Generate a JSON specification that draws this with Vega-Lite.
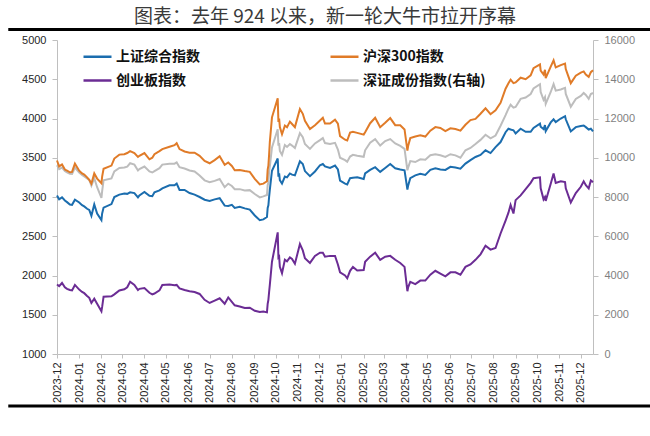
{
  "$schema": "https://vega.github.io/schema/vega-lite/v6.json",
  "width": 536,
  "height": 314,
  "autosize": {"type": "none"},
  "padding": {"left": 57, "top": 40, "right": 57, "bottom": 82},
  "background": "white",
  "title": {
    "text": "图表：去年 924 以来，新一轮大牛市拉开序幕",
    "font": "Noto Sans CJK SC",
    "fontSize": 19,
    "fontWeight": "normal",
    "color": "#3a3a3a",
    "anchor": "middle",
    "frame": "group",
    "offset": 1
  },
  "config": {
    "view": {"stroke": null},
    "axis": {
      "labelFont": "Liberation Sans",
      "labelFontSize": 11,
      "labelColor": "#262626",
      "domainColor": "#bfbfbf",
      "tickColor": "#bfbfbf",
      "grid": false
    }
  },
  "datasets": {
    "idx": [
      {"d": "2023-12-01", "sh": 3020, "hs": 3465, "cyb": 1885, "sz": 9620},
      {"d": "2023-12-04", "sh": 2970, "hs": 3390, "cyb": 1865, "sz": 9420},
      {"d": "2023-12-08", "sh": 2995, "hs": 3415, "cyb": 1905, "sz": 9500},
      {"d": "2023-12-12", "sh": 2955, "hs": 3350, "cyb": 1850, "sz": 9330},
      {"d": "2023-12-15", "sh": 2935, "hs": 3335, "cyb": 1830, "sz": 9250},
      {"d": "2023-12-19", "sh": 2905, "hs": 3315, "cyb": 1815, "sz": 9180},
      {"d": "2023-12-22", "sh": 2900, "hs": 3320, "cyb": 1810, "sz": 9170},
      {"d": "2023-12-26", "sh": 2965, "hs": 3425, "cyb": 1880, "sz": 9500},
      {"d": "2024-01-01", "sh": 2930, "hs": 3335, "cyb": 1820, "sz": 9250},
      {"d": "2024-01-05", "sh": 2895, "hs": 3300, "cyb": 1790, "sz": 9120},
      {"d": "2024-01-08", "sh": 2880, "hs": 3285, "cyb": 1775, "sz": 9050},
      {"d": "2024-01-12", "sh": 2850, "hs": 3250, "cyb": 1740, "sz": 8950},
      {"d": "2024-01-15", "sh": 2835, "hs": 3220, "cyb": 1715, "sz": 8870},
      {"d": "2024-01-18", "sh": 2760, "hs": 3170, "cyb": 1650, "sz": 8580},
      {"d": "2024-01-22", "sh": 2905, "hs": 3300, "cyb": 1705, "sz": 8960},
      {"d": "2024-01-26", "sh": 2790, "hs": 3235, "cyb": 1640, "sz": 8500},
      {"d": "2024-02-01", "sh": 2705, "hs": 3175, "cyb": 1545, "sz": 7950},
      {"d": "2024-02-02", "sh": 2790, "hs": 3260, "cyb": 1600, "sz": 8300},
      {"d": "2024-02-04", "sh": 2865, "hs": 3360, "cyb": 1730, "sz": 8850},
      {"d": "2024-02-15", "sh": 2910, "hs": 3400, "cyb": 1735, "sz": 8950},
      {"d": "2024-02-19", "sh": 3000, "hs": 3490, "cyb": 1760, "sz": 9300},
      {"d": "2024-02-26", "sh": 3030, "hs": 3540, "cyb": 1810, "sz": 9480},
      {"d": "2024-03-04", "sh": 3045, "hs": 3545, "cyb": 1825, "sz": 9500},
      {"d": "2024-03-08", "sh": 3040, "hs": 3560, "cyb": 1850, "sz": 9550},
      {"d": "2024-03-12", "sh": 3060, "hs": 3585, "cyb": 1920, "sz": 9720},
      {"d": "2024-03-18", "sh": 3050, "hs": 3560, "cyb": 1880, "sz": 9650},
      {"d": "2024-03-23", "sh": 2995, "hs": 3510, "cyb": 1815, "sz": 9350},
      {"d": "2024-03-25", "sh": 3020, "hs": 3525, "cyb": 1830, "sz": 9420},
      {"d": "2024-04-01", "sh": 3065, "hs": 3560, "cyb": 1840, "sz": 9550},
      {"d": "2024-04-08", "sh": 3015, "hs": 3480, "cyb": 1780, "sz": 9300},
      {"d": "2024-04-12", "sh": 3010, "hs": 3500, "cyb": 1760, "sz": 9250},
      {"d": "2024-04-15", "sh": 3060, "hs": 3545, "cyb": 1770, "sz": 9320},
      {"d": "2024-04-22", "sh": 3085, "hs": 3585, "cyb": 1810, "sz": 9470},
      {"d": "2024-04-26", "sh": 3110, "hs": 3610, "cyb": 1880, "sz": 9650},
      {"d": "2024-05-06", "sh": 3150, "hs": 3640, "cyb": 1885, "sz": 9700},
      {"d": "2024-05-13", "sh": 3150, "hs": 3660, "cyb": 1875, "sz": 9700},
      {"d": "2024-05-16", "sh": 3170, "hs": 3685, "cyb": 1880, "sz": 9760},
      {"d": "2024-05-20", "sh": 3090, "hs": 3610, "cyb": 1835, "sz": 9520},
      {"d": "2024-05-27", "sh": 3090, "hs": 3580, "cyb": 1815, "sz": 9450},
      {"d": "2024-06-03", "sh": 3050, "hs": 3565, "cyb": 1800, "sz": 9350},
      {"d": "2024-06-10", "sh": 3030, "hs": 3565, "cyb": 1790, "sz": 9300},
      {"d": "2024-06-17", "sh": 3000, "hs": 3525, "cyb": 1765, "sz": 9100},
      {"d": "2024-06-24", "sh": 2965, "hs": 3460, "cyb": 1690, "sz": 8850},
      {"d": "2024-07-01", "sh": 2950, "hs": 3430, "cyb": 1650, "sz": 8750},
      {"d": "2024-07-08", "sh": 2970, "hs": 3470, "cyb": 1680, "sz": 8820},
      {"d": "2024-07-15", "sh": 2985, "hs": 3520, "cyb": 1710, "sz": 8920},
      {"d": "2024-07-22", "sh": 2890, "hs": 3410, "cyb": 1640, "sz": 8500},
      {"d": "2024-07-27", "sh": 2885, "hs": 3440, "cyb": 1720, "sz": 8680},
      {"d": "2024-08-01", "sh": 2900, "hs": 3395, "cyb": 1665, "sz": 8560},
      {"d": "2024-08-05", "sh": 2860, "hs": 3340, "cyb": 1620, "sz": 8400},
      {"d": "2024-08-12", "sh": 2875, "hs": 3345, "cyb": 1605, "sz": 8400},
      {"d": "2024-08-19", "sh": 2855, "hs": 3330, "cyb": 1585, "sz": 8330},
      {"d": "2024-08-26", "sh": 2840, "hs": 3320, "cyb": 1590, "sz": 8350},
      {"d": "2024-09-02", "sh": 2765, "hs": 3230, "cyb": 1550, "sz": 8150},
      {"d": "2024-09-09", "sh": 2705, "hs": 3160, "cyb": 1535, "sz": 7980},
      {"d": "2024-09-14", "sh": 2715, "hs": 3170, "cyb": 1540, "sz": 8030},
      {"d": "2024-09-19", "sh": 2745, "hs": 3200, "cyb": 1530, "sz": 8100},
      {"d": "2024-09-20", "sh": 2860, "hs": 3350, "cyb": 1640, "sz": 8600},
      {"d": "2024-09-21", "sh": 2895, "hs": 3400, "cyb": 1690, "sz": 8750},
      {"d": "2024-09-22", "sh": 3000, "hs": 3540, "cyb": 1790, "sz": 9300},
      {"d": "2024-09-23", "sh": 3090, "hs": 3700, "cyb": 1880, "sz": 9550},
      {"d": "2024-09-26", "sh": 3335, "hs": 4015, "cyb": 2175, "sz": 10530},
      {"d": "2024-10-04", "sh": 3490, "hs": 4256, "cyb": 2550, "sz": 11450},
      {"d": "2024-10-05", "sh": 3260, "hs": 3955, "cyb": 2230, "sz": 10620},
      {"d": "2024-10-06", "sh": 3300, "hs": 4000, "cyb": 2240, "sz": 10750},
      {"d": "2024-10-07", "sh": 3215, "hs": 3890, "cyb": 2110, "sz": 10350},
      {"d": "2024-10-10", "sh": 3170, "hs": 3800, "cyb": 2030, "sz": 10150},
      {"d": "2024-10-14", "sh": 3260, "hs": 3910, "cyb": 2200, "sz": 10650},
      {"d": "2024-10-17", "sh": 3250, "hs": 3890, "cyb": 2180, "sz": 10550},
      {"d": "2024-10-21", "sh": 3300, "hs": 3960, "cyb": 2230, "sz": 10700},
      {"d": "2024-10-24", "sh": 3285, "hs": 3930, "cyb": 2210, "sz": 10620},
      {"d": "2024-10-28", "sh": 3275, "hs": 3890, "cyb": 2150, "sz": 10500},
      {"d": "2024-11-04", "sh": 3455, "hs": 4120, "cyb": 2400, "sz": 11250},
      {"d": "2024-11-08", "sh": 3420, "hs": 4060, "cyb": 2320, "sz": 11050},
      {"d": "2024-11-11", "sh": 3330, "hs": 3970, "cyb": 2220, "sz": 10700},
      {"d": "2024-11-18", "sh": 3265, "hs": 3865, "cyb": 2160, "sz": 10450},
      {"d": "2024-11-25", "sh": 3325, "hs": 3915, "cyb": 2250, "sz": 10730},
      {"d": "2024-12-02", "sh": 3405, "hs": 3975, "cyb": 2290, "sz": 10900},
      {"d": "2024-12-06", "sh": 3420, "hs": 4010, "cyb": 2290, "sz": 11000},
      {"d": "2024-12-09", "sh": 3390, "hs": 3935, "cyb": 2240, "sz": 10750},
      {"d": "2024-12-16", "sh": 3370, "hs": 3935, "cyb": 2250, "sz": 10700},
      {"d": "2024-12-23", "sh": 3400, "hs": 3985, "cyb": 2250, "sz": 10760},
      {"d": "2024-12-27", "sh": 3350, "hs": 3935, "cyb": 2140, "sz": 10420},
      {"d": "2024-12-30", "sh": 3210, "hs": 3775, "cyb": 2040, "sz": 10000},
      {"d": "2025-01-06", "sh": 3170, "hs": 3730, "cyb": 2000, "sz": 9880},
      {"d": "2025-01-09", "sh": 3160, "hs": 3720, "cyb": 1965, "sz": 9800},
      {"d": "2025-01-13", "sh": 3240, "hs": 3820, "cyb": 2060, "sz": 10060},
      {"d": "2025-01-17", "sh": 3245, "hs": 3830, "cyb": 2110, "sz": 10150},
      {"d": "2025-01-23", "sh": 3250, "hs": 3817, "cyb": 2065, "sz": 10100},
      {"d": "2025-02-01", "sh": 3230, "hs": 3795, "cyb": 2070, "sz": 10050},
      {"d": "2025-02-03", "sh": 3300, "hs": 3825, "cyb": 2175, "sz": 10380},
      {"d": "2025-02-10", "sh": 3345, "hs": 3940, "cyb": 2240, "sz": 10770},
      {"d": "2025-02-17", "sh": 3380, "hs": 4010, "cyb": 2290, "sz": 10950},
      {"d": "2025-02-24", "sh": 3320, "hs": 3890, "cyb": 2200, "sz": 10620},
      {"d": "2025-03-03", "sh": 3370, "hs": 3945, "cyb": 2240, "sz": 10850},
      {"d": "2025-03-10", "sh": 3420, "hs": 4005, "cyb": 2250, "sz": 10950},
      {"d": "2025-03-17", "sh": 3365, "hs": 3915, "cyb": 2200, "sz": 10730},
      {"d": "2025-03-24", "sh": 3350, "hs": 3915, "cyb": 2160, "sz": 10600},
      {"d": "2025-03-30", "sh": 3340, "hs": 3860, "cyb": 2110, "sz": 10450},
      {"d": "2025-04-03", "sh": 3095, "hs": 3590, "cyb": 1800, "sz": 9360},
      {"d": "2025-04-04", "sh": 3145, "hs": 3650, "cyb": 1850, "sz": 9500},
      {"d": "2025-04-07", "sh": 3240, "hs": 3750, "cyb": 1920, "sz": 9830},
      {"d": "2025-04-14", "sh": 3275, "hs": 3770, "cyb": 1890, "sz": 9780},
      {"d": "2025-04-21", "sh": 3295, "hs": 3785, "cyb": 1935, "sz": 9920},
      {"d": "2025-04-28", "sh": 3280, "hs": 3770, "cyb": 1935, "sz": 9900},
      {"d": "2025-05-05", "sh": 3345, "hs": 3845, "cyb": 2010, "sz": 10130},
      {"d": "2025-05-12", "sh": 3365, "hs": 3890, "cyb": 2060, "sz": 10180},
      {"d": "2025-05-19", "sh": 3350, "hs": 3880, "cyb": 2025, "sz": 10130},
      {"d": "2025-05-26", "sh": 3345, "hs": 3840, "cyb": 1990, "sz": 10040},
      {"d": "2025-06-02", "sh": 3385, "hs": 3875, "cyb": 2040, "sz": 10180},
      {"d": "2025-06-09", "sh": 3375, "hs": 3865, "cyb": 2040, "sz": 10120},
      {"d": "2025-06-16", "sh": 3360, "hs": 3845, "cyb": 2010, "sz": 10000},
      {"d": "2025-06-23", "sh": 3425, "hs": 3920, "cyb": 2110, "sz": 10380},
      {"d": "2025-06-30", "sh": 3470, "hs": 3980, "cyb": 2140, "sz": 10500},
      {"d": "2025-07-07", "sh": 3510, "hs": 3995, "cyb": 2200, "sz": 10700},
      {"d": "2025-07-14", "sh": 3535, "hs": 4060, "cyb": 2270, "sz": 10910},
      {"d": "2025-07-21", "sh": 3595, "hs": 4130, "cyb": 2380, "sz": 11170},
      {"d": "2025-07-28", "sh": 3560, "hs": 4055, "cyb": 2330, "sz": 10990},
      {"d": "2025-08-04", "sh": 3635, "hs": 4105, "cyb": 2350, "sz": 11130},
      {"d": "2025-08-11", "sh": 3700, "hs": 4200, "cyb": 2535, "sz": 11630},
      {"d": "2025-08-18", "sh": 3825, "hs": 4380, "cyb": 2700, "sz": 12170},
      {"d": "2025-08-22", "sh": 3870, "hs": 4450, "cyb": 2800, "sz": 12500},
      {"d": "2025-08-25", "sh": 3860, "hs": 4495, "cyb": 2900, "sz": 12700},
      {"d": "2025-08-29", "sh": 3850, "hs": 4450, "cyb": 2790, "sz": 12550},
      {"d": "2025-09-01", "sh": 3810, "hs": 4460, "cyb": 2960, "sz": 12590},
      {"d": "2025-09-08", "sh": 3870, "hs": 4520, "cyb": 3020, "sz": 13000},
      {"d": "2025-09-15", "sh": 3830, "hs": 4500, "cyb": 3100, "sz": 13070},
      {"d": "2025-09-22", "sh": 3830, "hs": 4550, "cyb": 3180, "sz": 13250},
      {"d": "2025-09-26", "sh": 3880, "hs": 4640, "cyb": 3240, "sz": 13530},
      {"d": "2025-10-05", "sh": 3935, "hs": 4690, "cyb": 3250, "sz": 13750},
      {"d": "2025-10-06", "sh": 3895, "hs": 4610, "cyb": 3110, "sz": 13350},
      {"d": "2025-10-10", "sh": 3865, "hs": 4560, "cyb": 2970, "sz": 12950},
      {"d": "2025-10-12", "sh": 3915, "hs": 4620, "cyb": 3000, "sz": 13090},
      {"d": "2025-10-13", "sh": 3840, "hs": 4515, "cyb": 2950, "sz": 12750},
      {"d": "2025-10-20", "sh": 3950, "hs": 4660, "cyb": 3170, "sz": 13350},
      {"d": "2025-10-24", "sh": 3990, "hs": 4740, "cyb": 3300, "sz": 13750},
      {"d": "2025-10-27", "sh": 3955, "hs": 4650, "cyb": 3180, "sz": 13420},
      {"d": "2025-11-03", "sh": 4000, "hs": 4680, "cyb": 3200, "sz": 13480},
      {"d": "2025-11-09", "sh": 4030, "hs": 4700, "cyb": 3190, "sz": 13560},
      {"d": "2025-11-10", "sh": 3990, "hs": 4630, "cyb": 3110, "sz": 13250},
      {"d": "2025-11-17", "sh": 3835, "hs": 4450, "cyb": 2930, "sz": 12600},
      {"d": "2025-11-24", "sh": 3890, "hs": 4545, "cyb": 3050, "sz": 13000},
      {"d": "2025-12-01", "sh": 3905, "hs": 4585, "cyb": 3130, "sz": 13150},
      {"d": "2025-12-05", "sh": 3910, "hs": 4600, "cyb": 3200, "sz": 13300},
      {"d": "2025-12-08", "sh": 3890, "hs": 4560, "cyb": 3150, "sz": 13200},
      {"d": "2025-12-12", "sh": 3860, "hs": 4530, "cyb": 3110, "sz": 13000},
      {"d": "2025-12-15", "sh": 3870, "hs": 4590, "cyb": 3210, "sz": 13250},
      {"d": "2025-12-18", "sh": 3835, "hs": 4615, "cyb": 3190, "sz": 13300}
    ]
  },
  "layer": [
    {
      "data": {"name": "idx"},
      "transform": [{"fold": ["sz"], "as": ["s", "v"]}],
      "mark": {"type": "line", "strokeWidth": 2},
      "encoding": {
        "x": {
          "field": "d",
          "type": "temporal",
          "scale": {"domain": [{"year": 2023, "month": 12, "date": 1}, {"year": 2025, "month": 12, "date": 18}]},
          "axis": {
            "title": null,
            "format": "%Y-%m",
            "labelAngle": 270,
            "tickCount": {"interval": "month", "step": 1},
            "labelFlush": false,
            "labelOverlap": false,
            "tickSize": 4,
            "labelPadding": 4
          }
        },
        "y": {
          "field": "v",
          "type": "quantitative",
          "scale": {"domain": [0, 16000]},
          "axis": {
            "orient": "right",
            "title": null,
            "format": "d",
            "values": [0, 2000, 4000, 6000, 8000, 10000, 12000, 14000, 16000],
            "labelColor": "#7f7f7f",
            "tickSize": 5,
            "labelPadding": 6
          }
        },
        "color": {
          "field": "s",
          "type": "nominal",
          "scale": {"domain": ["sh", "cyb", "hs", "sz"], "range": ["#1B6DAE", "#6B2C94", "#E07B28", "#BDBDBD"]},
          "legend": {
            "title": null,
            "orient": "none",
            "legendX": 25,
            "legendY": 1,
            "columns": 2,
            "columnPadding": 125,
            "rowPadding": 1,
            "padding": 0,
            "labelFont": "Noto Sans CJK SC",
            "labelFontSize": 14,
            "labelFontWeight": "bold",
            "labelColor": "#111111",
            "labelLimit": 300,
            "labelOffset": 3,
            "symbolType": "stroke",
            "symbolSize": 784,
            "symbolStrokeWidth": 2.5,
            "labelExpr": "{'sh': '上证综合指数', 'hs': '沪深300指数', 'cyb': '创业板指数', 'sz': '深证成份指数(右轴)'}[datum.label]"
          }
        }
      }
    },
    {
      "data": {"name": "idx"},
      "transform": [{"fold": ["sh", "hs", "cyb"], "as": ["s", "v"]}],
      "mark": {"type": "line", "strokeWidth": 2},
      "encoding": {
        "x": {"field": "d", "type": "temporal"},
        "y": {
          "field": "v",
          "type": "quantitative",
          "scale": {"domain": [1000, 5000]},
          "axis": {
            "orient": "left",
            "title": null,
            "format": "d",
            "values": [1000, 1500, 2000, 2500, 3000, 3500, 4000, 4500, 5000],
            "tickSize": 5,
            "labelPadding": 6
          }
        },
        "color": {
          "field": "s",
          "type": "nominal",
          "scale": {"domain": ["sh", "cyb", "hs", "sz"], "range": ["#1B6DAE", "#6B2C94", "#E07B28", "#BDBDBD"]}
        }
      }
    },
    {
      "data": {"values": [{}]},
      "mark": {"type": "rule", "strokeWidth": 3, "color": "#000000", "clip": false},
      "encoding": {
        "x": {"datum": {"year": 2023, "month": 9, "date": 24}, "type": "temporal"},
        "x2": {"datum": {"year": 2026, "month": 3, "date": 10}},
        "y": {"datum": 5135, "type": "quantitative", "scale": {"domain": [1000, 5000]}, "axis": null}
      }
    },
    {
      "data": {"values": [{}]},
      "mark": {"type": "rule", "strokeWidth": 3, "color": "#000000", "clip": false},
      "encoding": {
        "x": {"datum": {"year": 2023, "month": 9, "date": 24}, "type": "temporal"},
        "x2": {"datum": {"year": 2026, "month": 3, "date": 10}},
        "y": {"datum": 338, "type": "quantitative", "scale": {"domain": [1000, 5000]}, "axis": null}
      }
    }
  ],
  "resolve": {"scale": {"y": "independent"}}
}
